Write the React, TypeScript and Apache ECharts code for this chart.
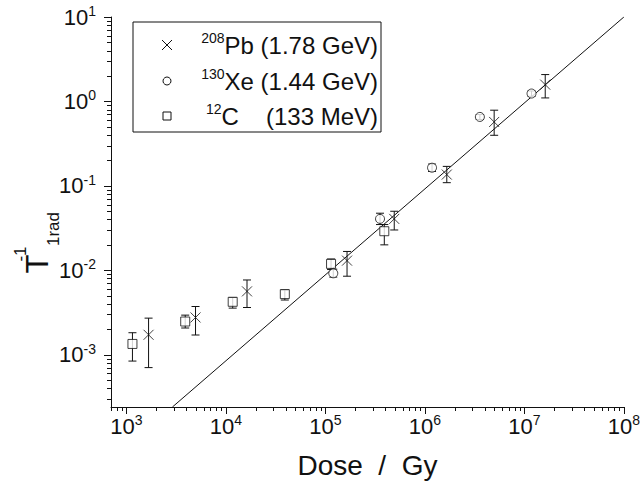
import React, { useEffect, useRef } from 'react';
import * as echarts from 'echarts';

// ---- axis ranges ----
const doseRange = [700, 1e8];
const tRange = [2.4e-4, 10];

// ---- 208Pb (1.78 GeV) ----
const pbDose = [1670, 4950, 1.63e4, 1.65e5, 4.92e5, 1.66e6, 4.97e6, 1.62e7];
const pbT = [1.72e-3, 2.76e-3, 5.62e-3, 1.3e-2, 4.06e-2, 0.136, 0.571, 1.58];
const pbLow = [7.03e-4, 1.71e-3, 3.62e-3, 8.5e-3, 3.0e-2, 0.109, 0.397, 1.1];
const pbHigh = [2.71e-3, 3.72e-3, 7.67e-3, 1.67e-2, 5.0e-2, 0.17, 0.787, 2.08];

// ---- 130Xe (1.44 GeV) ----
const xeDose = [1.2e5, 3.54e5, 1.18e6, 3.57e6, 1.18e7];
const xeT = [9.2e-3, 4.06e-2, 0.164, 0.655, 1.24];
const xeLow = [8.3e-3, 3.48e-2, 0.148, 0.61, 1.15];
const xeHigh = [1.03e-2, 4.74e-2, 0.181, 0.7, 1.33];

// ---- 12C (133 MeV) ----
const cDose = [1150, 3900, 1.17e4, 3.91e4, 1.14e5, 3.91e5];
const cT = [1.34e-3, 2.47e-3, 4.23e-3, 5.22e-3, 1.19e-2, 2.9e-2];
const cLow = [8.4e-4, 2.07e-3, 3.56e-3, 4.44e-3, 1.02e-2, 2.0e-2];
const cHigh = [1.82e-3, 2.94e-3, 4.76e-3, 5.83e-3, 1.36e-2, 3.48e-2];

// ---- fitted line ----
const fitDose = [2.9e3, 1e8];
const fitT = [2.4e-4, 10];

const FONT = '"Liberation Sans", Arial, Helvetica, sans-serif';
const INK = '#111';

function logTicks(min: number, max: number) {
  const out: { v: number; major: boolean }[] = [];
  const e0 = Math.floor(Math.log10(min));
  const e1 = Math.ceil(Math.log10(max));
  for (let e = e0; e <= e1; e++) {
    for (let m = 1; m <= 9; m++) {
      const v = m * Math.pow(10, e);
      if (v >= min * 0.999 && v <= max * 1.001) out.push({ v, major: m === 1 });
    }
  }
  return out;
}

function powLabel(v: number) {
  const e = Math.round(Math.log10(v));
  const p = Math.pow(10, e);
  if (Math.abs(v - p) / p > 1e-6) return '';
  return `{b|10}{s|${e}}`;
}

const labelRich = {
  b: { fontSize: 22, lineHeight: 26, fontFamily: FONT, color: INK },
  s: { fontSize: 14, lineHeight: 14, fontFamily: FONT, color: INK, verticalAlign: 'top' },
};

const legendRich = {
  b: { fontSize: 24, lineHeight: 28, fontFamily: FONT, fill: INK },
  s: { fontSize: 14, lineHeight: 14, fontFamily: FONT, fill: INK, verticalAlign: 'top' },
};

function errSeries(dose: number[], t: number[], lo: number[], hi: number[]) {
  return {
    type: 'custom',
    coordinateSystem: 'cartesian2d',
    z: 3,
    silent: true,
    clip: false,
    data: dose.map((d, i) => [d, t[i], lo[i], hi[i]]),
    renderItem: (params: any, api: any) => {
      const x = api.value(0);
      const pLo = api.coord([x, api.value(2)]);
      const pHi = api.coord([x, api.value(3)]);
      const w = 4;
      const st = { stroke: INK, lineWidth: 1 };
      return {
        type: 'group',
        children: [
          { type: 'line', shape: { x1: pLo[0], y1: pLo[1], x2: pHi[0], y2: pHi[1] }, style: st },
          { type: 'line', shape: { x1: pLo[0] - w, y1: pLo[1], x2: pLo[0] + w, y2: pLo[1] }, style: st },
          { type: 'line', shape: { x1: pHi[0] - w, y1: pHi[1], x2: pHi[0] + w, y2: pHi[1] }, style: st },
        ],
      };
    },
  };
}

export default function App() {
  const ref = useRef<HTMLDivElement>(null);
  useEffect(() => {
    if (!ref.current) return;
    const chart = echarts.init(ref.current, undefined, { renderer: 'svg' });
    const xt = logTicks(doseRange[0], doseRange[1]);
    const yt = logTicks(tRange[0], tRange[1]);

    const option: any = {
      animation: false,
      backgroundColor: '#fff',
      grid: { left: 111, right: 16, top: 17, bottom: 82, containLabel: false },
      xAxis: {
        type: 'log',
        min: doseRange[0],
        max: doseRange[1],
        axisLine: { lineStyle: { color: INK, width: 1 } },
        axisTick: { show: false },
        splitLine: { show: false },
        axisLabel: { formatter: powLabel, rich: labelRich, margin: 6 },
        name: 'Dose  /  Gy',
        nameLocation: 'middle',
        nameGap: 44,
        nameTextStyle: { fontSize: 28, fontFamily: FONT, color: INK },
      },
      yAxis: {
        type: 'log',
        min: tRange[0],
        max: tRange[1],
        axisLine: { show: true, lineStyle: { color: INK, width: 1 } },
        axisTick: { show: false },
        splitLine: { show: false },
        axisLabel: { formatter: powLabel, rich: labelRich, margin: 15 },
      },
      graphic: [
        { type: 'text', x: 37, y: 264, rotation: Math.PI / 2, style: { text: 'T', fontSize: 31, fontFamily: FONT, fill: INK, align: 'center', verticalAlign: 'middle' } },
        { type: 'text', x: 20, y: 254, rotation: Math.PI / 2, style: { text: '-1', fontSize: 17, fontFamily: FONT, fill: INK, align: 'center', verticalAlign: 'middle' } },
        { type: 'text', x: 53, y: 229, rotation: Math.PI / 2, style: { text: '1rad', fontSize: 17, fontFamily: FONT, fill: INK, align: 'center', verticalAlign: 'middle' } },
        {
          type: 'group',
          z: 100,
          children: [
            { type: 'rect', shape: { x: 133, y: 22, width: 248, height: 110 }, style: { fill: '#fff', stroke: INK, lineWidth: 1 } },
            { type: 'line', shape: { x1: 162, y1: 40, x2: 172, y2: 50 }, style: { stroke: INK, lineWidth: 1 } },
            { type: 'line', shape: { x1: 172, y1: 40, x2: 162, y2: 50 }, style: { stroke: INK, lineWidth: 1 } },
            { type: 'circle', shape: { cx: 167, cy: 81, r: 4 }, style: { fill: '#fff', stroke: INK, lineWidth: 1 } },
            { type: 'rect', shape: { x: 163, y: 112, width: 8, height: 8 }, style: { fill: '#fff', stroke: INK, lineWidth: 1 } },
            { type: 'text', x: 378, y: 45, style: { text: '{s|208}{b|Pb (1.78 GeV)}', rich: legendRich, align: 'right', verticalAlign: 'middle' } },
            { type: 'text', x: 378, y: 81, style: { text: '{s|130}{b|Xe (1.44 GeV)}', rich: legendRich, align: 'right', verticalAlign: 'middle' } },
            { type: 'text', x: 206, y: 116, style: { text: '{s|12}{b|C}', rich: legendRich, align: 'left', verticalAlign: 'middle' } },
            { type: 'text', x: 378, y: 116, style: { text: '(133 MeV)', fontSize: 24, fontFamily: FONT, fill: INK, align: 'right', verticalAlign: 'middle' } },
          ],
        },
      ],
      series: [
        {
          type: 'custom',
          coordinateSystem: 'cartesian2d',
          silent: true,
          clip: false,
          z: 1,
          data: xt.map((t) => [t.v, tRange[0], t.major ? 1 : 0]),
          renderItem: (params: any, api: any) => {
            const p = api.coord([api.value(0), api.value(1)]);
            const len = api.value(2) ? 7 : 4;
            const x = Math.round(p[0]) + 0.5;
            return { type: 'line', shape: { x1: x, y1: p[1], x2: x, y2: p[1] + len }, style: { stroke: INK, lineWidth: 1 } };
          },
        },
        {
          type: 'custom',
          coordinateSystem: 'cartesian2d',
          silent: true,
          clip: false,
          z: 1,
          data: yt.map((t) => [doseRange[0], t.v, t.major ? 1 : 0]),
          renderItem: (params: any, api: any) => {
            const p = api.coord([api.value(0), api.value(1)]);
            const len = api.value(2) ? 7 : 4;
            const y = Math.round(p[1]) + 0.5;
            return { type: 'line', shape: { x1: p[0], y1: y, x2: p[0] - len, y2: y }, style: { stroke: INK, lineWidth: 1 } };
          },
        },
        {
          type: 'line',
          data: fitDose.map((d, i) => [d, fitT[i]]),
          symbol: 'none',
          lineStyle: { color: INK, width: 1 },
          z: 2,
          silent: true,
        },
        errSeries(pbDose, pbT, pbLow, pbHigh),
        errSeries(xeDose, xeT, xeLow, xeHigh),
        errSeries(cDose, cT, cLow, cHigh),
        {
          name: '208Pb (1.78 GeV)',
          type: 'scatter',
          data: pbDose.map((d, i) => [d, pbT[i]]),
          symbol: 'path://M0 0L10 10M10 0L0 10',
          symbolSize: 10,
          itemStyle: { color: 'rgba(0,0,0,0)', borderColor: INK, borderWidth: 1 },
          z: 4,
        },
        {
          name: '130Xe (1.44 GeV)',
          type: 'scatter',
          data: xeDose.map((d, i) => [d, xeT[i]]),
          symbol: 'circle',
          symbolSize: 9,
          itemStyle: { color: '#fff', borderColor: INK, borderWidth: 1 },
          z: 4,
        },
        {
          name: '12C (133 MeV)',
          type: 'scatter',
          data: cDose.map((d, i) => [d, cT[i]]),
          symbol: 'rect',
          symbolSize: 9,
          itemStyle: { color: '#fff', borderColor: INK, borderWidth: 1 },
          z: 4,
        },
      ],
    };
    chart.setOption(option);
    return () => chart.dispose();
  }, []);
  return <div ref={ref} style={{ position: 'fixed', left: 0, top: 0, width: 643, height: 489 }} />;
}
